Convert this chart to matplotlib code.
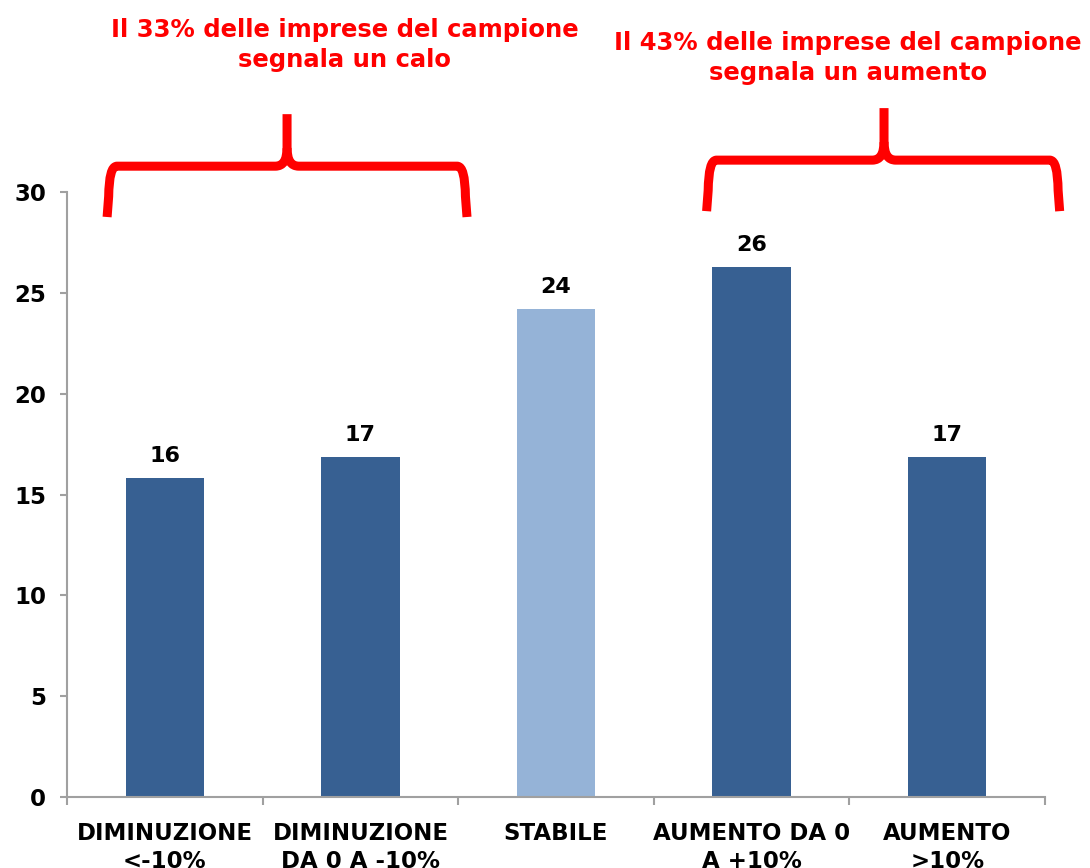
import matplotlib
matplotlib.use("Agg")
import matplotlib.pyplot as plt
from matplotlib.path import Path
from matplotlib.patches import PathPatch

categories = ["DIMINUZIONE\n<-10%", "DIMINUZIONE\nDA 0 A -10%", "STABILE",
              "AUMENTO DA 0\nA +10%", "AUMENTO\n>10%"]
values = [15.8, 16.85, 24.2, 26.3, 16.85]
value_labels = ["16", "17", "24", "26", "17"]
bar_colors = ["#376092", "#376092", "#95B3D7", "#376092", "#376092"]
yticks = [0, 5, 10, 15, 20, 25, 30]
note_left = "Il 33% delle imprese del campione\nsegnala un calo"
note_right = "Il 43% delle imprese del campione\nsegnala un aumento"

plt.rcParams['font.family'] = ['DejaVu Sans']

fig = plt.figure(figsize=(10.9, 8.68), dpi=100)
ax = fig.add_axes([67/1090, 1-797/868, (1045-67)/1090, (797-192)/868])

x = list(range(len(categories)))
ax.bar(x, values, width=0.4, color=bar_colors, zorder=2)
for xi, v, lab in zip(x, values, value_labels):
    ax.text(xi, v + 0.6, lab, ha="center", va="bottom", fontsize=16,
            fontweight="bold", color="black")

ax.set_xlim(-0.5, len(categories) - 0.5)
ax.set_ylim(0, 30)
ax.set_yticks(yticks)
ax.set_yticklabels([str(t) for t in yticks], fontsize=16.5, fontweight="bold")
ax.set_xticks(x)
ax.set_xticklabels(categories, fontsize=16.5, fontweight="bold", linespacing=1.3)
ax.tick_params(axis="x", length=0, pad=18)
ax.set_xticks([i - 0.5 for i in range(len(categories) + 1)], minor=True)
ax.tick_params(axis="x", which="minor", length=5.5, color="#a0a0a0", width=1.5)
ax.tick_params(axis="y", length=5, color="#a0a0a0", width=1.5, pad=10)
for s in ["top", "right"]:
    ax.spines[s].set_visible(False)
for s in ["left", "bottom"]:
    ax.spines[s].set_color("#a0a0a0")
    ax.spines[s].set_linewidth(1.5)


def bracket(x0, x1, xc, yb, yh, ypk):
    rx, ry = 0.05, 1.5
    cx, cy = 0.06, 0.9
    halves = []
    for xe, sgn in ((x0, 1), (x1, -1)):
        v = [(xe, yb), (xe + sgn * 0.008, yh - ry), (xe + sgn * 0.01, yh),
             (xe + sgn * rx, yh), (xc - sgn * cx, yh), (xc, yh), (xc, yh + cy)]
        c = [Path.MOVETO, Path.LINETO, Path.CURVE3, Path.CURVE3,
             Path.LINETO, Path.CURVE3, Path.CURVE3]
        if sgn == 1:
            v.append((xc, ypk))
            c.append(Path.LINETO)
        halves.append((v, c))
    for v, c in halves:
        p = PathPatch(Path(v, c), fill=False, edgecolor="#ff0000", lw=6.5,
                      capstyle="butt", joinstyle="round", clip_on=False, zorder=5)
        ax.add_patch(p)


bracket(-0.295, 1.545, 0.625, 28.76, 31.28, 33.86)
bracket(2.77, 4.575, 3.677, 29.05, 31.58, 34.16)

fig.text(345/1090, 1-45/868, note_left, ha="center", va="center", fontsize=17.5,
         fontweight="bold", color="#ff0000", linespacing=1.35)
fig.text(848/1090, 1-58/868, note_right, ha="center", va="center", fontsize=17.5,
         fontweight="bold", color="#ff0000", linespacing=1.35)

fig.savefig("out.png", dpi=100)
